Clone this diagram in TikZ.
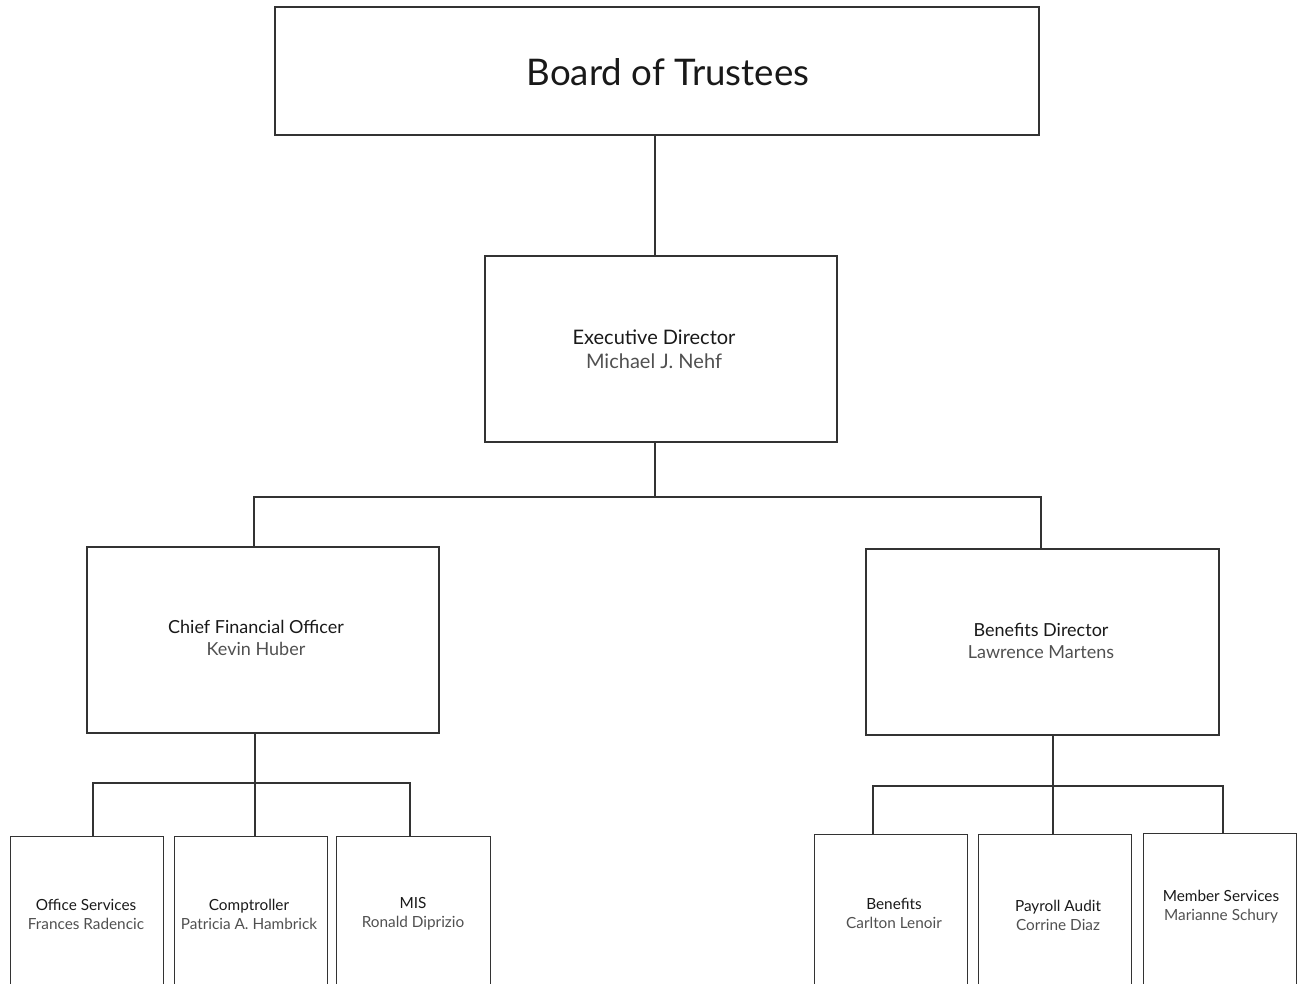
\documentclass[tikz,border=0pt]{standalone}
\usepackage{fontspec}
\setmainfont{Lato}
\definecolor{ln}{HTML}{333333}
\definecolor{nm}{HTML}{505050}
\tikzset{
  box/.style={draw=ln, line width=1.1pt, rectangle, inner sep=0pt, align=center, text=black},
  conn/.style={draw=ln, line width=1.1pt},
  lbl/.style={align=center, text=black!90},
}
\newcommand{\nm}[1]{{\color{nm}#1}}
\begin{document}
\begin{tikzpicture}[x=0.75pt,y=-0.75pt]
\useasboundingbox (0,0) rectangle (1299,984);
\clip (0,0) rectangle (1299,984);
% top
\node[box, minimum width=764*0.75pt, minimum height=128*0.75pt] (bt) at (657,71) {};
\node[lbl, font=\fontsize{27.5}{30}\selectfont] (btt) at (668,72) {Board of Trustees};
\node[box, minimum width=352*0.75pt, minimum height=186*0.75pt] (ed) at (661,349) {};
\node[lbl, font=\fontsize{15}{18}\selectfont] (edt) at (654,349) {Executive Director\\\nm{Michael J. Nehf}};
% second level
\node[box, minimum width=352*0.75pt, minimum height=186*0.75pt] (cfo) at (263,640) {};
\node[lbl, font=\fontsize{13.5}{16}\selectfont] (cfot) at (256,638) {Chief Financial Officer\\\nm{Kevin Huber}};
\node[box, minimum width=353*0.75pt, minimum height=186*0.75pt] (bd) at (1042.5,642) {};
\node[lbl, font=\fontsize{13.5}{16}\selectfont] (bdt) at (1041,641) {Benefits Director\\\nm{Lawrence Martens}};
% bottom left
\node[box, anchor=north west, minimum width=153*0.75pt, minimum height=200*0.75pt] (os) at (10,836) {};
\node[box, anchor=north west, minimum width=153*0.75pt, minimum height=200*0.75pt] (co) at (174,836) {};
\node[box, anchor=north west, minimum width=154*0.75pt, minimum height=200*0.75pt] (mis) at (336,836) {};
\node[lbl, font=\fontsize{11.5}{14.3}\selectfont] (ost) at (86,914) {Office Services\\\nm{Frances Radencic}};
\node[lbl, font=\fontsize{11.5}{14.3}\selectfont] (cot) at (249,914) {Comptroller\\\nm{Patricia A. Hambrick}};
\node[lbl, font=\fontsize{11.5}{14.3}\selectfont] (mist) at (413,914) {MIS\\\nm{Ronald Diprizio}};
% bottom right
\node[box, anchor=north west, minimum width=153*0.75pt, minimum height=200*0.75pt] (be) at (814,834) {};
\node[box, anchor=north west, minimum width=153*0.75pt, minimum height=200*0.75pt] (pa) at (978,834) {};
\node[box, anchor=north west, minimum width=153*0.75pt, minimum height=200*0.75pt] (ms) at (1143,833) {};
\node[lbl, font=\fontsize{11.5}{14.3}\selectfont] (bet) at (894,913) {Benefits\\\nm{Carlton Lenoir}};
\node[lbl, font=\fontsize{11.5}{14.3}\selectfont] (pat) at (1058,915) {Payroll Audit\\\nm{Corrine Diaz}};
\node[lbl, font=\fontsize{11.5}{14.3}\selectfont] (mst) at (1221,907) {Member Services\\\nm{Marianne Schury}};
% connectors
\coordinate (j1) at (655,497);
\draw[conn] (bt.south -| j1) -- (ed.north -| j1);
\draw[conn] (ed.south -| j1) -- (j1);
\draw[conn] (cfo.north -| 254,0) |- (j1) -| (bd.north -| 1041,0);
\coordinate (j2) at (255,783);
\draw[conn] (cfo.south -| j2) -- (j2);
\draw[conn] (os.north -| 93,0) |- (j2) -| (mis.north -| 410,0);
\draw[conn] (j2) -- (co.north -| j2);
\coordinate (j3) at (1053,786);
\draw[conn] (bd.south -| j3) -- (j3);
\draw[conn] (be.north -| 873,0) |- (j3) -| (ms.north -| 1223,0);
\draw[conn] (j3) -- (pa.north -| j3);
\end{tikzpicture}
\end{document}
